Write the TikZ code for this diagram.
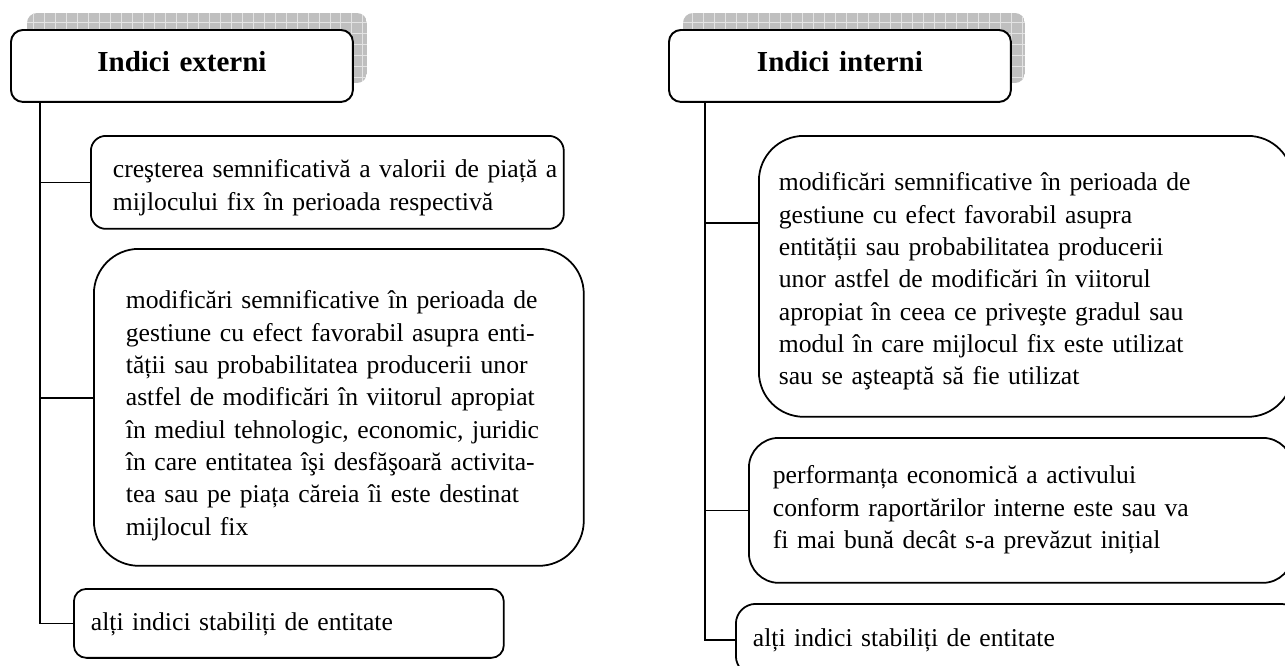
\documentclass[tikz,border=0pt]{standalone}
\usepackage{fontspec}
\setmainfont{Liberation Serif}
\usetikzlibrary{calc}
% margine stanga a textului din casete
\newcommand{\pad}[1]{\leftskip=#1\rightskip=-0.5cm plus 1fil\relax}

\begin{document}
\begin{tikzpicture}[x=0.02cm,y=-0.02cm,
    head/.style={draw, line width=1.1pt, fill=white, rounded corners=0.24cm, anchor=north west,
      minimum height=1.44cm, text width=6cm, inner xsep=0.42cm, align=center, text depth=0.2cm,
      font=\bfseries\fontsize{16.5}{19}\selectfont},
    item/.style={draw, line width=1pt, fill=white, anchor=north west, align=left, inner xsep=0pt,
      text height=0.36cm, font=\fontsize{14.6}{18.4}\selectfont},
    link/.style={line width=0.9pt}]
\useasboundingbox (0,0) rectangle (1285,666);

% umbre
\begin{scope}
  \clip[rounded corners=0.2cm] (27,13) rectangle (367,83);
  \fill[gray!50] (27,13) rectangle (367,83);
  \draw[gray!22, line width=0.5pt, step=0.22cm] (27,13) grid (367,83);
\end{scope}
\begin{scope}
  \clip[rounded corners=0.2cm] (683,13) rectangle (1025,83);
  \fill[gray!50] (683,13) rectangle (1025,83);
  \draw[gray!22, line width=0.5pt, step=0.22cm] (683,13) grid (1025,83);
\end{scope}

% indici externi
\node [head] (Lh) at (10,29) {Indici externi};
\node [item, rounded corners=0.3cm, minimum height=1.86cm, text width=9.46cm, text depth=0.54cm] (L1) at (90,135)
  {\pad{0.44cm}creşterea semnificativă a valorii de piață a\\ mijlocului fix în perioada respectivă\par};
\node [item, rounded corners=0.9cm, minimum height=6.34cm, text width=9.8cm, text depth=4.3cm] (L2) at (93,248)
  {\pad{0.64cm}modificări semnificative în perioada de\\ gestiune cu efect favorabil asupra enti-\\
   tății sau probabilitatea producerii unor\\ astfel de modificări în viitorul apropiat\\
   în mediul tehnologic, economic, juridic\\ în care entitatea îşi desfăşoară activita-\\
   tea sau pe piața căreia îi este destinat\\ mijlocul fix\par};
\node [item, rounded corners=0.25cm, minimum height=1.38cm, text width=8.6cm, text depth=0.06cm] (L3) at (73,588)
  {\pad{0.34cm}alți indici stabiliți de entitate\par};

% indici interni
\node [head] (Rh) at (668,29) {Indici interni};
\node [item, rounded corners=0.9cm, minimum height=5.62cm, text width=10.68cm, text depth=3.78cm] (R1) at (758,135)
  {\pad{0.4cm}modificări semnificative în perioada de\\ gestiune cu efect favorabil asupra\\
   entității sau probabilitatea producerii\\ unor astfel de modificări în viitorul\\
   apropiat în ceea ce priveşte gradul sau\\ modul în care mijlocul fix este utilizat\\
   sau se aşteaptă să fie utilizat\par};
\node [item, rounded corners=0.6cm, minimum height=2.9cm, text width=10.88cm, text depth=1.42cm] (R2) at (748,437)
  {\pad{0.48cm}performanța economică a activului\\ conform raportărilor interne este sau va\\
   fi mai bună decât s-a prevăzut inițial\par};
\node [item, rounded corners=0.4cm, minimum height=1.44cm, text width=11.3cm, text depth=0.08cm] (R3) at (735,603)
  {\pad{0.34cm}alți indici stabiliți de entitate\par};

% legaturi
\coordinate (Lt) at ($(Lh.south west)+(30,0)$);
\coordinate (L2c) at ([yshift=0.19cm]L2.west);
\draw [link] (Lt) |- (L3.west);
\draw [link] (Lt |- L1.west) -- (L1.west);
\draw [link] (Lt |- L2c) -- (L2c);

\coordinate (Rt) at ($(Rh.south west)+(37,0)$);
\coordinate (R1c) at ([yshift=1.07cm]R1.west);
\draw [link] (Rt) |- (R3.west);
\draw [link] (Rt |- R1c) -- (R1c);
\draw [link] (Rt |- R2.west) -- (R2.west);

\end{tikzpicture}
\end{document}
